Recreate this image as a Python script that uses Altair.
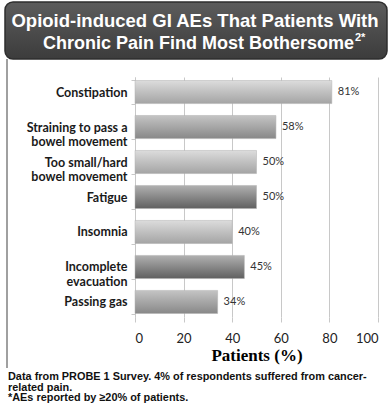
import altair as alt
import pandas as pd

# ---- data ----
categories = [
    "Constipation",
    "Straining to pass a|bowel movement",
    "Too small/hard|bowel movement",
    "Fatigue",
    "Insomnia",
    "Incomplete|evacuation",
    "Passing gas",
]
values = [81, 58, 50, 50, 40, 45, 34]
x_ticks = [0, 20, 40, 60, 80, 100]
title_line1 = "Opioid-induced GI AEs That Patients With"
title_line2 = "Chronic Pain Find Most Bothersome"
title_sup = "2*"
axis_title = "Patients (%)"
footnote = "Data from PROBE 1 Survey. 4% of respondents suffered from cancer-\nrelated pain.\n*AEs reported by \u226520% of patients."

df = pd.DataFrame({"category": categories, "value": values})
df["label"] = df["value"].astype(str) + "%"

# ---- layout ----
W, H = 243, 240
PAD_L, PAD_T = 135, 77
PAD_R = 389 - PAD_L - W
PAD_B = 410 - PAD_T - H


def grad(top, bottom):
    return alt.Gradient(
        gradient="linear",
        stops=[alt.GradientStop(color=top, offset=0),
               alt.GradientStop(color=bottom, offset=1)],
        x1=0, x2=0, y1=0, y2=1,
    )


shade_groups = [
    (["Constipation", "Too small/hard|bowel movement", "Insomnia"], grad("#dcdcdc", "#a4a4a4")),
    (["Straining to pass a|bowel movement", "Passing gas"], grad("#c4c4c4", "#888888")),
    (["Fatigue", "Incomplete|evacuation"], grad("#b0b0b0", "#606060")),
]

y_enc = alt.Y(
    "category:N",
    sort=categories,
    scale=alt.Scale(paddingInner=0.34, paddingOuter=0.1),
    axis=alt.Axis(
        title=None,
        labelExpr="split(datum.label, '|')",
        labelFont="Lato",
        labelFontWeight="bold",
        labelFontSize=12.5,
        labelColor="#1a1a1a",
        labelPadding=4,
        labelLineHeight=14.5,
        domainColor="#c8c8c8",
        tickColor="#c8c8c8",
        tickBand="extent",
        tickSize=4,
        grid=False,
    ),
)
x_enc = alt.X(
    "value:Q",
    scale=alt.Scale(domain=[0, 100]),
    axis=alt.Axis(
        values=x_ticks,
        title=axis_title,
        titleFont="Liberation Serif",
        titleFontSize=17,
        titleFontWeight="bold",
        titleColor="#000000",
        titlePadding=2,
        labelFont="Lato",
        labelFontSize=13,
        labelColor="#222222",
        labelPadding=10,
        tickSize=5,
        tickColor="#c8c8c8",
        gridColor="#c8c8c8",
        domain=False,
    ),
)

base = alt.Chart(df)
bars = [
    base.transform_filter(alt.FieldOneOfPredicate(field="category", oneOf=cats))
    .mark_bar(fill=g, stroke="#b0b0b0", strokeWidth=0.5)
    .encode(x=x_enc, y=y_enc)
    for cats, g in shade_groups
]

labels = base.mark_text(align="left", dx=6, font="Lato", fontSize=11, color="#333333").encode(
    x="value:Q", y=alt.Y("category:N", sort=categories), text="label:N"
)

one = pd.DataFrame({"k": [0]})
title_box = alt.Chart(one).mark_rect(
    cornerRadius=8, fill=grad("#5c5c5c", "#3c3c3c"), stroke="#2e2e2e", strokeWidth=1.5
).encode(
    x=alt.value(5 - PAD_L), x2=alt.value(387 - PAD_L),
    y=alt.value(2 - PAD_T), y2=alt.value(59 - PAD_T),
)
side_line = alt.Chart(one).mark_rule(color="#a0a0a0", strokeWidth=2).encode(
    x=alt.value(7 - PAD_L), y=alt.value(59 - PAD_T), y2=alt.value(368 - PAD_T)
)
t1 = alt.Chart(one).mark_text(
    font="Liberation Sans", fontWeight="bold", fontSize=18.5, color="white", align="center", baseline="middle"
).encode(x=alt.value(195 - PAD_L), y=alt.value(21 - PAD_T), text=alt.value(title_line1))
t2 = alt.Chart(one).mark_text(
    font="Liberation Sans", fontWeight="bold", fontSize=18, color="white", align="right", baseline="middle"
).encode(x=alt.value(354 - PAD_L), y=alt.value(44 - PAD_T), text=alt.value(title_line2))
t3 = alt.Chart(one).mark_text(
    font="Liberation Sans", fontWeight="bold", fontSize=11, color="white", align="left", baseline="middle"
).encode(x=alt.value(355 - PAD_L), y=alt.value(38 - PAD_T), text=alt.value(title_sup))
foot = alt.Chart(one).mark_text(
    font="Liberation Sans", fontWeight="bold", fontSize=10.9, color="#111111", align="left",
    baseline="middle", lineBreak="\n", lineHeight=10.5,
).encode(x=alt.value(8 - PAD_L), y=alt.value(377 - PAD_T), text=alt.value(footnote))

chart = alt.layer(title_box, side_line, *bars, labels, t1, t2, t3, foot).properties(
    width=W, height=H,
    autosize=alt.AutoSizeParams(type="none"),
    padding={"left": PAD_L, "top": PAD_T, "right": PAD_R, "bottom": PAD_B},
    background="white",
).configure_view(stroke=None)

chart.save("out.html", embed_options={"renderer": "svg", "actions": False})
